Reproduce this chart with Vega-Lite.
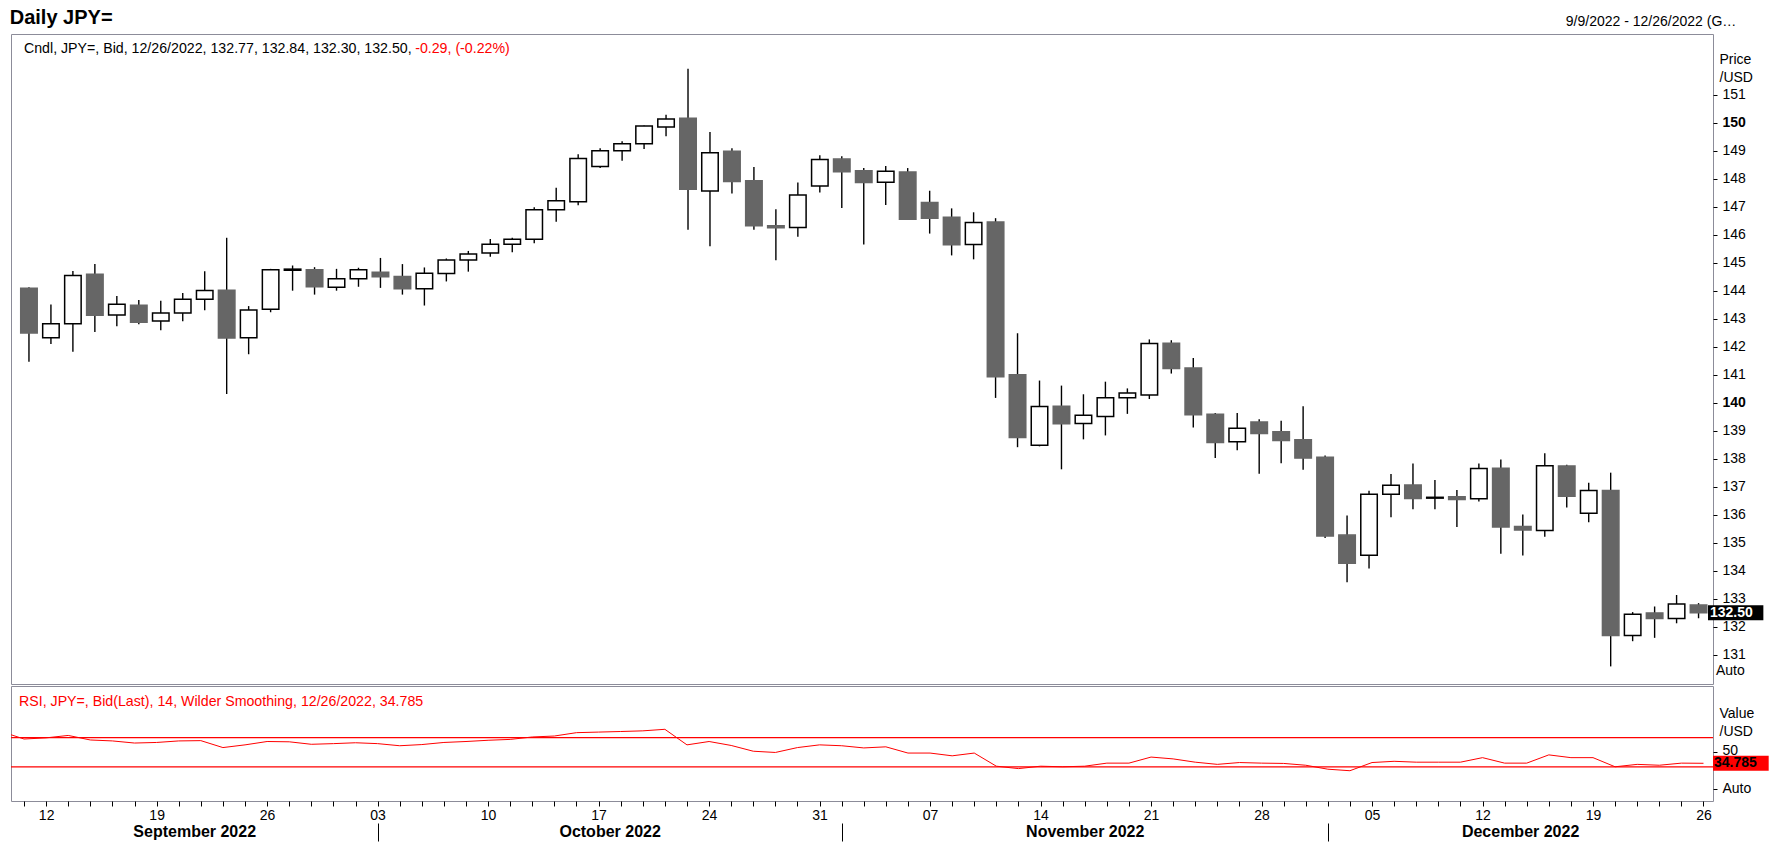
{
  "$schema": "https://vega.github.io/schema/vega-lite/v6.json",
  "padding": {"left": 8, "top": 6, "right": 0, "bottom": 0},
  "background": "white",
  "spacing": 0,
  "config": {
    "view": {"stroke": "#8c8c99", "strokeWidth": 1},
    "font": "Liberation Sans",
    "text": {"font": "Liberation Sans"},
    "axis": {"grid": false, "domain": false, "labelOverlap": false, "labelFont": "Liberation Sans", "titleFont": "Liberation Sans", "labelColor": "black", "titleColor": "black", "tickColor": "black"}
  },
  "datasets": {
    "ohlc": [
      {"date": "2022-09-09", "idx": 0, "open": 144.09, "high": 144.12, "low": 141.46, "close": 142.49},
      {"date": "2022-09-12", "idx": 1, "open": 142.32, "high": 143.51, "low": 142.10, "close": 142.82},
      {"date": "2022-09-13", "idx": 2, "open": 142.82, "high": 144.70, "low": 141.82, "close": 144.54},
      {"date": "2022-09-14", "idx": 3, "open": 144.59, "high": 144.95, "low": 142.52, "close": 143.12},
      {"date": "2022-09-15", "idx": 4, "open": 143.13, "high": 143.81, "low": 142.73, "close": 143.52},
      {"date": "2022-09-16", "idx": 5, "open": 143.48, "high": 143.67, "low": 142.80, "close": 142.87},
      {"date": "2022-09-19", "idx": 6, "open": 142.92, "high": 143.64, "low": 142.59, "close": 143.20},
      {"date": "2022-09-20", "idx": 7, "open": 143.20, "high": 143.92, "low": 142.91, "close": 143.69},
      {"date": "2022-09-21", "idx": 8, "open": 143.69, "high": 144.69, "low": 143.30, "close": 144.01},
      {"date": "2022-09-22", "idx": 9, "open": 144.02, "high": 145.89, "low": 140.31, "close": 142.31},
      {"date": "2022-09-23", "idx": 10, "open": 142.32, "high": 143.45, "low": 141.73, "close": 143.31},
      {"date": "2022-09-26", "idx": 11, "open": 143.34, "high": 144.78, "low": 143.23, "close": 144.75},
      {"date": "2022-09-27", "idx": 12, "open": 144.73, "high": 144.90, "low": 144.00, "close": 144.77},
      {"date": "2022-09-28", "idx": 13, "open": 144.75, "high": 144.84, "low": 143.86, "close": 144.14},
      {"date": "2022-09-29", "idx": 14, "open": 144.12, "high": 144.78, "low": 144.00, "close": 144.43},
      {"date": "2022-09-30", "idx": 15, "open": 144.43, "high": 144.82, "low": 144.14, "close": 144.75},
      {"date": "2022-10-03", "idx": 16, "open": 144.66, "high": 145.17, "low": 144.10, "close": 144.50},
      {"date": "2022-10-04", "idx": 17, "open": 144.51, "high": 144.95, "low": 143.86, "close": 144.07},
      {"date": "2022-10-05", "idx": 18, "open": 144.07, "high": 144.83, "low": 143.47, "close": 144.62},
      {"date": "2022-10-06", "idx": 19, "open": 144.61, "high": 145.15, "low": 144.33, "close": 145.10},
      {"date": "2022-10-07", "idx": 20, "open": 145.10, "high": 145.42, "low": 144.68, "close": 145.31},
      {"date": "2022-10-10", "idx": 21, "open": 145.35, "high": 145.85, "low": 145.21, "close": 145.66},
      {"date": "2022-10-11", "idx": 22, "open": 145.66, "high": 145.89, "low": 145.37, "close": 145.84},
      {"date": "2022-10-12", "idx": 23, "open": 145.84, "high": 146.98, "low": 145.69, "close": 146.89},
      {"date": "2022-10-13", "idx": 24, "open": 146.89, "high": 147.68, "low": 146.46, "close": 147.21},
      {"date": "2022-10-14", "idx": 25, "open": 147.18, "high": 148.87, "low": 147.05, "close": 148.72},
      {"date": "2022-10-17", "idx": 26, "open": 148.44, "high": 149.09, "low": 148.38, "close": 149.00},
      {"date": "2022-10-18", "idx": 27, "open": 149.00, "high": 149.34, "low": 148.64, "close": 149.25},
      {"date": "2022-10-19", "idx": 28, "open": 149.25, "high": 149.90, "low": 149.06, "close": 149.88},
      {"date": "2022-10-20", "idx": 29, "open": 149.85, "high": 150.28, "low": 149.52, "close": 150.13},
      {"date": "2022-10-21", "idx": 30, "open": 150.16, "high": 151.93, "low": 146.18, "close": 147.62},
      {"date": "2022-10-24", "idx": 31, "open": 147.56, "high": 149.67, "low": 145.59, "close": 148.93},
      {"date": "2022-10-25", "idx": 32, "open": 148.98, "high": 149.09, "low": 147.47, "close": 147.90},
      {"date": "2022-10-26", "idx": 33, "open": 147.93, "high": 148.42, "low": 146.18, "close": 146.32},
      {"date": "2022-10-27", "idx": 34, "open": 146.32, "high": 146.91, "low": 145.09, "close": 146.25},
      {"date": "2022-10-28", "idx": 35, "open": 146.26, "high": 147.86, "low": 145.93, "close": 147.42},
      {"date": "2022-10-31", "idx": 36, "open": 147.74, "high": 148.84, "low": 147.51, "close": 148.69},
      {"date": "2022-11-01", "idx": 37, "open": 148.70, "high": 148.80, "low": 146.95, "close": 148.25},
      {"date": "2022-11-02", "idx": 38, "open": 148.28, "high": 148.38, "low": 145.65, "close": 147.86},
      {"date": "2022-11-03", "idx": 39, "open": 147.87, "high": 148.45, "low": 147.06, "close": 148.27},
      {"date": "2022-11-04", "idx": 40, "open": 148.24, "high": 148.38, "low": 146.53, "close": 146.55},
      {"date": "2022-11-07", "idx": 41, "open": 147.15, "high": 147.57, "low": 146.04, "close": 146.59},
      {"date": "2022-11-08", "idx": 42, "open": 146.62, "high": 146.94, "low": 145.26, "close": 145.64},
      {"date": "2022-11-09", "idx": 43, "open": 145.65, "high": 146.80, "low": 145.12, "close": 146.44},
      {"date": "2022-11-10", "idx": 44, "open": 146.45, "high": 146.59, "low": 140.17, "close": 140.93},
      {"date": "2022-11-11", "idx": 45, "open": 141.00, "high": 142.48, "low": 138.41, "close": 138.76},
      {"date": "2022-11-14", "idx": 46, "open": 138.48, "high": 140.79, "low": 138.44, "close": 139.86},
      {"date": "2022-11-15", "idx": 47, "open": 139.87, "high": 140.61, "low": 137.62, "close": 139.25},
      {"date": "2022-11-16", "idx": 48, "open": 139.26, "high": 140.30, "low": 138.69, "close": 139.55},
      {"date": "2022-11-17", "idx": 49, "open": 139.51, "high": 140.75, "low": 138.83, "close": 140.18},
      {"date": "2022-11-18", "idx": 50, "open": 140.18, "high": 140.51, "low": 139.60, "close": 140.35},
      {"date": "2022-11-21", "idx": 51, "open": 140.27, "high": 142.26, "low": 140.13, "close": 142.11},
      {"date": "2022-11-22", "idx": 52, "open": 142.12, "high": 142.23, "low": 141.04, "close": 141.22},
      {"date": "2022-11-23", "idx": 53, "open": 141.24, "high": 141.60, "low": 139.11, "close": 139.57},
      {"date": "2022-11-24", "idx": 54, "open": 139.59, "high": 139.63, "low": 138.02, "close": 138.58},
      {"date": "2022-11-25", "idx": 55, "open": 138.60, "high": 139.63, "low": 138.30, "close": 139.09},
      {"date": "2022-11-28", "idx": 56, "open": 139.31, "high": 139.41, "low": 137.46, "close": 138.90},
      {"date": "2022-11-29", "idx": 57, "open": 138.96, "high": 139.35, "low": 137.84, "close": 138.65},
      {"date": "2022-11-30", "idx": 58, "open": 138.68, "high": 139.87, "low": 137.60, "close": 138.02},
      {"date": "2022-12-01", "idx": 59, "open": 138.05, "high": 138.11, "low": 135.17, "close": 135.24},
      {"date": "2022-12-02", "idx": 60, "open": 135.27, "high": 135.97, "low": 133.59, "close": 134.26},
      {"date": "2022-12-05", "idx": 61, "open": 134.55, "high": 136.85, "low": 134.08, "close": 136.73},
      {"date": "2022-12-06", "idx": 62, "open": 136.73, "high": 137.45, "low": 135.91, "close": 137.05},
      {"date": "2022-12-07", "idx": 63, "open": 137.06, "high": 137.83, "low": 136.19, "close": 136.58},
      {"date": "2022-12-08", "idx": 64, "open": 136.59, "high": 137.24, "low": 136.19, "close": 136.62},
      {"date": "2022-12-09", "idx": 65, "open": 136.64, "high": 136.88, "low": 135.56, "close": 136.54},
      {"date": "2022-12-12", "idx": 66, "open": 136.57, "high": 137.83, "low": 136.47, "close": 137.65},
      {"date": "2022-12-13", "idx": 67, "open": 137.66, "high": 137.97, "low": 134.60, "close": 135.56},
      {"date": "2022-12-14", "idx": 68, "open": 135.58, "high": 136.01, "low": 134.54, "close": 135.45},
      {"date": "2022-12-15", "idx": 69, "open": 135.43, "high": 138.19, "low": 135.21, "close": 137.75},
      {"date": "2022-12-16", "idx": 70, "open": 137.74, "high": 137.78, "low": 136.26, "close": 136.66},
      {"date": "2022-12-19", "idx": 71, "open": 136.05, "high": 137.14, "low": 135.73, "close": 136.86},
      {"date": "2022-12-20", "idx": 72, "open": 136.86, "high": 137.50, "low": 130.58, "close": 131.68},
      {"date": "2022-12-21", "idx": 73, "open": 131.68, "high": 132.52, "low": 131.48, "close": 132.44},
      {"date": "2022-12-22", "idx": 74, "open": 132.49, "high": 132.72, "low": 131.60, "close": 132.29},
      {"date": "2022-12-23", "idx": 75, "open": 132.29, "high": 133.13, "low": 132.12, "close": 132.81},
      {"date": "2022-12-26", "idx": 76, "open": 132.77, "high": 132.84, "low": 132.30, "close": 132.50}
    ],
    "rsi": [
      {"date": "2022-09-08", "idx": -1, "rsi": 77.9},
      {"date": "2022-09-09", "idx": 0, "rsi": 68.0},
      {"date": "2022-09-12", "idx": 1, "rsi": 69.6},
      {"date": "2022-09-13", "idx": 2, "rsi": 72.9},
      {"date": "2022-09-14", "idx": 3, "rsi": 66.7},
      {"date": "2022-09-15", "idx": 4, "rsi": 65.4},
      {"date": "2022-09-16", "idx": 5, "rsi": 62.5},
      {"date": "2022-09-19", "idx": 6, "rsi": 63.3},
      {"date": "2022-09-20", "idx": 7, "rsi": 65.4},
      {"date": "2022-09-21", "idx": 8, "rsi": 65.8},
      {"date": "2022-09-22", "idx": 9, "rsi": 56.3},
      {"date": "2022-09-23", "idx": 10, "rsi": 60.0},
      {"date": "2022-09-26", "idx": 11, "rsi": 64.6},
      {"date": "2022-09-27", "idx": 12, "rsi": 64.2},
      {"date": "2022-09-28", "idx": 13, "rsi": 60.8},
      {"date": "2022-09-29", "idx": 14, "rsi": 61.7},
      {"date": "2022-09-30", "idx": 15, "rsi": 62.9},
      {"date": "2022-10-03", "idx": 16, "rsi": 61.7},
      {"date": "2022-10-04", "idx": 17, "rsi": 58.8},
      {"date": "2022-10-05", "idx": 18, "rsi": 60.4},
      {"date": "2022-10-06", "idx": 19, "rsi": 63.3},
      {"date": "2022-10-07", "idx": 20, "rsi": 64.6},
      {"date": "2022-10-10", "idx": 21, "rsi": 66.3},
      {"date": "2022-10-11", "idx": 22, "rsi": 67.5},
      {"date": "2022-10-12", "idx": 23, "rsi": 70.8},
      {"date": "2022-10-13", "idx": 24, "rsi": 72.1},
      {"date": "2022-10-14", "idx": 25, "rsi": 76.7},
      {"date": "2022-10-17", "idx": 26, "rsi": 77.5},
      {"date": "2022-10-18", "idx": 27, "rsi": 78.3},
      {"date": "2022-10-19", "idx": 28, "rsi": 79.2},
      {"date": "2022-10-20", "idx": 29, "rsi": 81.3},
      {"date": "2022-10-21", "idx": 30, "rsi": 60.0},
      {"date": "2022-10-24", "idx": 31, "rsi": 64.6},
      {"date": "2022-10-25", "idx": 32, "rsi": 59.2},
      {"date": "2022-10-26", "idx": 33, "rsi": 51.3},
      {"date": "2022-10-27", "idx": 34, "rsi": 49.6},
      {"date": "2022-10-28", "idx": 35, "rsi": 56.3},
      {"date": "2022-10-31", "idx": 36, "rsi": 60.0},
      {"date": "2022-11-01", "idx": 37, "rsi": 58.8},
      {"date": "2022-11-02", "idx": 38, "rsi": 55.8},
      {"date": "2022-11-03", "idx": 39, "rsi": 57.3},
      {"date": "2022-11-04", "idx": 40, "rsi": 48.8},
      {"date": "2022-11-07", "idx": 41, "rsi": 48.8},
      {"date": "2022-11-08", "idx": 42, "rsi": 45.0},
      {"date": "2022-11-09", "idx": 43, "rsi": 48.8},
      {"date": "2022-11-10", "idx": 44, "rsi": 30.8},
      {"date": "2022-11-11", "idx": 45, "rsi": 27.5},
      {"date": "2022-11-14", "idx": 46, "rsi": 30.8},
      {"date": "2022-11-15", "idx": 47, "rsi": 30.0},
      {"date": "2022-11-16", "idx": 48, "rsi": 30.8},
      {"date": "2022-11-17", "idx": 49, "rsi": 35.0},
      {"date": "2022-11-18", "idx": 50, "rsi": 35.0},
      {"date": "2022-11-21", "idx": 51, "rsi": 43.3},
      {"date": "2022-11-22", "idx": 52, "rsi": 40.8},
      {"date": "2022-11-23", "idx": 53, "rsi": 36.3},
      {"date": "2022-11-24", "idx": 54, "rsi": 33.3},
      {"date": "2022-11-25", "idx": 55, "rsi": 35.8},
      {"date": "2022-11-28", "idx": 56, "rsi": 35.0},
      {"date": "2022-11-29", "idx": 57, "rsi": 34.6},
      {"date": "2022-11-30", "idx": 58, "rsi": 32.1},
      {"date": "2022-12-01", "idx": 59, "rsi": 26.7},
      {"date": "2022-12-02", "idx": 60, "rsi": 24.6},
      {"date": "2022-12-05", "idx": 61, "rsi": 35.8},
      {"date": "2022-12-06", "idx": 62, "rsi": 37.5},
      {"date": "2022-12-07", "idx": 63, "rsi": 36.3},
      {"date": "2022-12-08", "idx": 64, "rsi": 36.3},
      {"date": "2022-12-09", "idx": 65, "rsi": 36.3},
      {"date": "2022-12-12", "idx": 66, "rsi": 42.5},
      {"date": "2022-12-13", "idx": 67, "rsi": 35.0},
      {"date": "2022-12-14", "idx": 68, "rsi": 35.0},
      {"date": "2022-12-15", "idx": 69, "rsi": 46.3},
      {"date": "2022-12-16", "idx": 70, "rsi": 42.5},
      {"date": "2022-12-19", "idx": 71, "rsi": 42.5},
      {"date": "2022-12-20", "idx": 72, "rsi": 30.0},
      {"date": "2022-12-21", "idx": 73, "rsi": 33.3},
      {"date": "2022-12-22", "idx": 74, "rsi": 32.1},
      {"date": "2022-12-23", "idx": 75, "rsi": 35.0},
      {"date": "2022-12-26", "idx": 76, "rsi": 34.785}
    ],
    "levels": [{"level": 30}, {"level": 70}]
  },
  "vconcat": [
    {
      "width": 1702,
      "height": 650,
      "data": {"name": "ohlc"},
      "resolve": {"axis": {"y": "independent"}},
      "layer": [
        {
          "mark": {"type": "rule", "color": "black", "strokeWidth": 1.4},
          "encoding": {
            "x": {
              "field": "idx", "type": "quantitative",
              "scale": {"domain": [-0.59, 76.43], "nice": false, "zero": false},
              "axis": {
                "orient": "top", "values": [-0.58, 76.42], "ticks": false, "domain": false, "title": null,
                "labelExpr": "datum.value < 10 ? 'Daily JPY=' : '9/9/2022 - 12/26/2022 (GMT)'",
                "labelFlush": false, "labelOverlap": false, "labelBound": false,
                "labelBaseline": "middle",
                "labelAlign": {"condition": {"test": "datum.value < 10", "value": "left"}, "value": "right"},
                "labelFontSize": {"condition": {"test": "datum.value < 10", "value": 20}, "value": 14},
                "labelFontWeight": {"condition": {"test": "datum.value < 10", "value": "bold"}, "value": "normal"},
                "labelOffset": {"condition": {"test": "datum.value < 10", "value": -7}, "value": 28},
                "labelPadding": {"condition": {"test": "datum.value < 10", "value": 17}, "value": 13}
              }
            },
            "y": {
              "field": "low", "type": "quantitative",
              "scale": {"domain": [130.13, 152.99], "nice": false, "zero": false},
              "axis": {
                "orient": "right",
                "values": [131, 133, 135, 137, 139, 141, 143, 145, 147, 149, 151],
                "format": "d",
                "tickSize": 4, "labelPadding": 5, "labelFontSize": 14, "labelBaseline": "middle", "labelAlign": "left",
                "labelOverlap": false, "labelFlush": false, "labelBound": false, "domain": false,
                "title": ["Price", "/USD"], "titleAngle": 0, "titleAlign": "left", "titleBaseline": "top",
                "titleX": 6, "titleY": 18, "titleFontSize": 14, "titleFontWeight": "normal", "titleLineHeight": 18
              }
            },
            "y2": {"field": "high"}
          }
        },
        {
          "mark": {"type": "bar", "orient": "vertical", "size": 16.5, "strokeWidth": 1.5},
          "encoding": {
            "x": {"field": "idx", "type": "quantitative"},
            "y": {
              "field": "open", "type": "quantitative",
              "axis": {
                "orient": "right",
                "values": [132, 134, 136, 138, 140, 142, 144, 146, 148, 150],
                "format": "d",
                "labelFontWeight": {"condition": {"test": "datum.value == 150 || datum.value == 140", "value": "bold"}, "value": "normal"},
                "tickSize": 4, "labelPadding": 5, "labelFontSize": 14, "labelBaseline": "middle", "labelAlign": "left",
                "labelOverlap": false, "labelFlush": false, "labelBound": false, "domain": false, "title": null
              }
            },
            "y2": {"field": "close"},
            "fill": {"condition": {"test": "datum.close >= datum.open", "value": "white"}, "value": "#666666"},
            "stroke": {"condition": {"test": "datum.close >= datum.open", "value": "black"}, "value": "#666666"},
            "tooltip": [
              {"field": "date", "type": "nominal", "title": "Date"},
              {"field": "open", "type": "quantitative", "title": "Open"},
              {"field": "high", "type": "quantitative", "title": "High"},
              {"field": "low", "type": "quantitative", "title": "Low"},
              {"field": "close", "type": "quantitative", "title": "Close"}
            ]
          }
        },
        {
          "transform": [{"filter": "datum.idx == 76"}],
          "mark": {"type": "text", "text": "Cndl, JPY=, Bid, 12/26/2022, 132.77, 132.84, 132.30, 132.50,", "align": "left", "baseline": "middle", "fontSize": 14.2, "color": "black"},
          "encoding": {
            "x": {"datum": -0.228, "type": "quantitative"},
            "y": {"datum": 152.63, "type": "quantitative", "axis": null}
          }
        },
        {
          "transform": [{"filter": "datum.idx == 76"}],
          "mark": {"type": "text", "text": "-0.29, (-0.22%)", "align": "left", "baseline": "middle", "fontSize": 14.2, "color": "#ff0000"},
          "encoding": {
            "x": {"datum": 17.58, "type": "quantitative"},
            "y": {"datum": 152.63, "type": "quantitative", "axis": null}
          }
        },
        {
          "transform": [{"filter": "datum.idx == 76"}],
          "mark": {"type": "text", "text": "Auto", "align": "left", "baseline": "middle", "fontSize": 14, "color": "black"},
          "encoding": {
            "x": {"datum": 76.79, "type": "quantitative"},
            "y": {"datum": 130.42, "type": "quantitative", "axis": null}
          }
        },
        {
          "transform": [{"filter": "datum.idx == 76"}],
          "mark": {"type": "bar", "orient": "horizontal", "size": 15, "color": "black"},
          "encoding": {
            "x": {"datum": 76.43, "type": "quantitative"},
            "x2": {"datum": 78.95},
            "y": {"field": "close", "type": "quantitative", "axis": null}
          }
        },
        {
          "transform": [{"filter": "datum.idx == 76"}],
          "mark": {"type": "text", "align": "left", "baseline": "middle", "dx": 2, "fontSize": 14, "fontWeight": "bold", "color": "white"},
          "encoding": {
            "x": {"datum": 76.43, "type": "quantitative"},
            "y": {"field": "close", "type": "quantitative", "axis": null},
            "text": {"field": "close", "type": "quantitative", "format": ".2f"}
          }
        }
      ]
    },
    {
      "width": 1702,
      "height": 115,
      "layer": [
        {
          "data": {"name": "levels"},
          "mark": {"type": "rule", "color": "#ff0000", "strokeWidth": 1.2},
          "encoding": {
            "y": {
              "field": "level", "type": "quantitative",
              "scale": {"domain": [-10, 133.75], "nice": false, "zero": false},
              "axis": {
                "orient": "right", "values": [0, 50],
                "labelExpr": "datum.value == 0 ? 'Auto' : '50'",
                "labelOffset": {"condition": {"test": "datum.value == 50", "value": -2}, "value": 0},
                "tickSize": 4, "labelPadding": 5, "labelFontSize": 14, "labelBaseline": "middle", "labelAlign": "left",
                "labelOverlap": false, "labelFlush": false, "domain": false,
                "title": ["Value", "/USD"], "titleAngle": 0, "titleAlign": "left", "titleBaseline": "top",
                "titleX": 6, "titleY": 20, "titleFontSize": 14, "titleFontWeight": "normal", "titleLineHeight": 18
              }
            }
          }
        },
        {
          "data": {"name": "rsi"},
          "mark": {"type": "line", "color": "#ff0000", "strokeWidth": 1, "clip": true},
          "encoding": {
            "x": {
              "field": "idx", "type": "quantitative",
              "scale": {"domain": [-0.59, 76.43], "nice": false, "zero": false},
              "axis": {
                "orient": "bottom",
                "values": [0, 1, 2, 3, 4, 5, 6, 7, 8, 9, 10, 11, 12, 13, 14, 15, 16, 17, 18, 19, 20, 21, 22, 23, 24, 25, 26, 27, 28, 29, 30, 31, 32, 33, 34, 35, 36, 37, 38, 39, 40, 41, 42, 43, 44, 45, 46, 47, 48, 49, 50, 51, 52, 53, 54, 55, 56, 57, 58, 59, 60, 61, 62, 63, 64, 65, 66, 67, 68, 69, 70, 71, 72, 73, 74, 75, 76],
                "labelExpr": "(datum.value - 1) % 5 == 0 ? ['12','19','26','03','10','17','24','31','07','14','21','28','05','12','19','26'][(datum.value - 1) / 5] : ''",
                "title": null, "domain": false, "tickSize": 5, "tickWidth": 1,
                "labelFontSize": 14, "labelBaseline": "middle", "labelPadding": 9,
                "labelFlush": false, "labelOverlap": false, "labelBound": false
              }
            },
            "y": {"field": "rsi", "type": "quantitative"},
            "tooltip": [
              {"field": "date", "type": "nominal", "title": "Date"},
              {"field": "rsi", "type": "quantitative", "title": "RSI"}
            ]
          }
        },
        {
          "data": {"name": "rsi"},
          "transform": [{"filter": "datum.idx == 76"}],
          "mark": {"type": "text", "text": "RSI, JPY=, Bid(Last),  14, Wilder Smoothing, 12/26/2022, 34.785", "align": "left", "baseline": "middle", "fontSize": 14.2, "color": "#ff0000"},
          "encoding": {
            "x": {
              "datum": -0.228, "type": "quantitative",
              "axis": {
                "orient": "bottom", "values": [7.7, 26.5, 48, 67.7], "title": null, "domain": false, "ticks": false,
                "labelExpr": "datum.value < 20 ? 'September 2022' : datum.value < 40 ? 'October 2022' : datum.value < 60 ? 'November 2022' : 'December 2022'",
                "labelFontSize": 16, "labelFontWeight": "bold", "labelBaseline": "middle", "labelPadding": 30,
                "labelFlush": false, "labelOverlap": false, "labelBound": false
              }
            },
            "y": {"datum": 118.75, "type": "quantitative"}
          }
        },
        {
          "data": {"name": "rsi"},
          "transform": [{"filter": "datum.idx == 76"}],
          "mark": {"type": "bar", "orient": "horizontal", "size": 15, "color": "#ff0000"},
          "encoding": {
            "x": {
              "datum": 76.43, "type": "quantitative",
              "axis": {
                "orient": "bottom", "values": [16, 37, 59], "title": null, "domain": false, "labels": false,
                "ticks": true, "tickSize": 18, "offset": 22, "tickWidth": 1
              }
            },
            "x2": {"datum": 78.95},
            "y": {"field": "rsi", "type": "quantitative"}
          }
        },
        {
          "data": {"name": "rsi"},
          "transform": [{"filter": "datum.idx == 76"}],
          "mark": {"type": "text", "align": "left", "baseline": "middle", "dx": 1, "fontSize": 14, "fontWeight": "bold", "color": "black"},
          "encoding": {
            "x": {"datum": 76.43, "type": "quantitative", "axis": null},
            "y": {"field": "rsi", "type": "quantitative"},
            "text": {"field": "rsi", "type": "quantitative", "format": ".3f"}
          }
        }
      ],
      "resolve": {"axis": {"x": "independent"}}
    }
  ]
}
